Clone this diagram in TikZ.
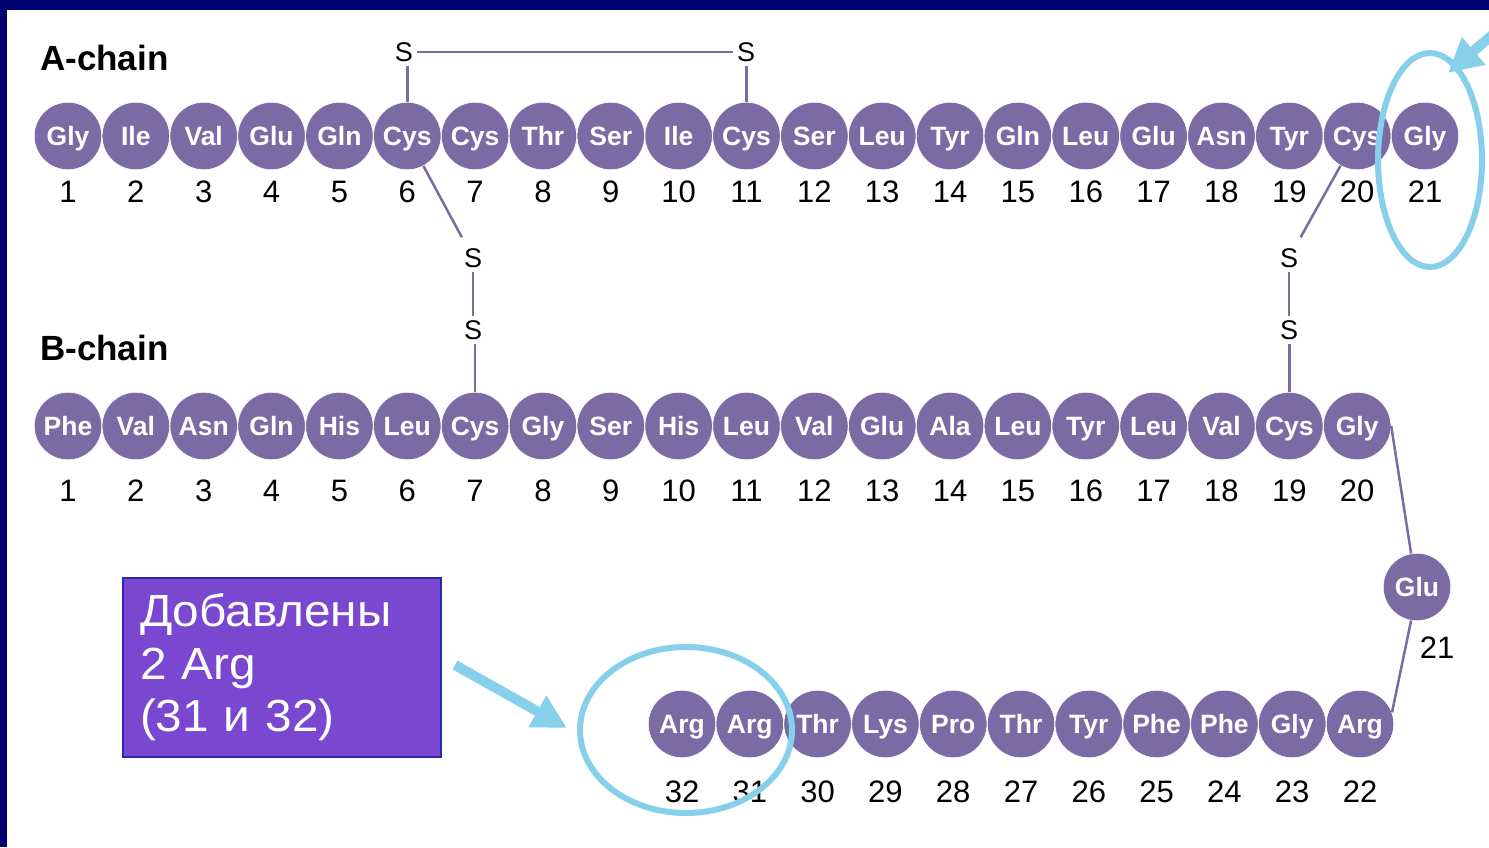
\documentclass[tikz,border=0pt]{standalone}
\usepackage{fontspec}
\setmainfont{Liberation Sans}
\newfontfamily\boxfont[FakeStretch=1.06]{Liberation Sans}
\usetikzlibrary{arrows.meta,shapes.geometric}
\definecolor{navy}{RGB}{0,0,110}
\definecolor{resfill}{RGB}{122,107,164}
\definecolor{cyanmark}{RGB}{135,208,235}
\definecolor{boxfill}{RGB}{122,72,208}
\definecolor{boxline}{RGB}{40,40,170}
\begin{document}
\begin{tikzpicture}[x=1pt,y=-1pt,
 res/.style={circle,fill=resfill,draw=white,line width=0.6pt,minimum size=67.5pt,inner sep=0pt,text=white,font=\fontsize{26.5}{30}\selectfont\bfseries,text height=19pt,text depth=0pt},
 num/.style={font=\fontsize{31}{34}\selectfont,text height=22pt,text depth=0pt,inner sep=0pt},
 sulf/.style={font=\fontsize{27}{30}\selectfont,text height=19pt,text depth=0pt,inner sep=4pt},
 bond/.style={draw=resfill,line width=2.5pt},
 chain/.style={font=\fontsize{35}{38}\selectfont\bfseries,anchor=base west,inner sep=0pt},
 hilite/.style={draw=cyanmark,line width=6pt,ellipse,inner sep=0pt},
 pointer/.style={draw=cyanmark,line width=10pt,-{Triangle[length=34pt,width=34pt]}},
 notebox/.style={rectangle,fill=boxfill,draw=boxline,line width=2pt,anchor=north west,minimum width=318pt,minimum height=179pt,inner xsep=17pt,inner ysep=0pt,text width=284pt,align=left,text=white,font=\boxfont\fontsize{45}{52.5}\selectfont}
 ]
\useasboundingbox (0,0) rectangle (1489,847);
\clip (0,0) rectangle (1489,847);
\fill[navy] (0,0) rectangle (1489,847);
\fill[white] (7,10) rectangle (1489,847);

% labels
\node[chain] (alabel) at (40,70) {A-chain};
\node[chain] (blabel) at (40,360) {B-chain};

% A chain
\foreach \n [count=\i] in {Gly,Ile,Val,Glu,Gln,Cys,Cys,Thr,Ser,Ile,Cys,Ser,Leu,Tyr,Gln,Leu,Glu,Asn,Tyr,Cys,Gly}{
  \node[res] (a\i) at ({68+(\i-1)*67.85},136) {\n};
  \node[num] (na\i) at ({68+(\i-1)*67.85},191) {\i};
}
% B chain
\foreach \n [count=\i] in {Phe,Val,Asn,Gln,His,Leu,Cys,Gly,Ser,His,Leu,Val,Glu,Ala,Leu,Tyr,Leu,Val,Cys,Gly}{
  \node[res] (b\i) at ({68+(\i-1)*67.85},426) {\n};
  \node[num] (nb\i) at ({68+(\i-1)*67.85},490) {\i};
}
\node[res] (glu) at (1417,587) {Glu};
\node[num] (nglu) at (1437,647) {21};
% C-terminal row
\foreach \n [count=\i from 22] in {Arg,Gly,Phe,Phe,Tyr,Thr,Pro,Lys,Thr,Arg,Arg}{
  \node[res] (c\i) at ({1360-(\i-22)*67.8},724) {\n};
  \node[num] (nc\i) at ({1360-(\i-22)*67.8},791) {\i};
}

% sulfur atoms
\node[sulf] (s1) at (404,52) {S};
\node[sulf] (s2) at (746,52) {S};
\node[sulf] (s3) at (473,258) {S};
\node[sulf] (s4) at (473,330) {S};
\node[sulf] (s5) at (1289,258) {S};
\node[sulf] (s6) at (1289,330) {S};

% disulfide bonds
\draw[bond] (s1.south -| a6) -- (a6);
\draw[bond] (s1) -- (s2);
\draw[bond] (s2.south -| a11) -- (a11);
\draw[bond,shorten >=8pt] (a6) -- (s3);
\draw[bond] (s3) -- (s4);
\draw[bond] (s4.south -| b7) -- (b7);
\draw[bond,shorten >=8pt] (a20) -- (s5);
\draw[bond] (s5) -- (s6);
\draw[bond] (s6.south -| b19) -- (b19);

% chain continuation
\draw[bond] (b20.east) -- (glu.100);
\draw[bond] (glu.260) -- (c22.20);

% highlights
\node[hilite,minimum width=212pt,minimum height=166pt] (ring1) at (686,730) {};
\node[hilite,minimum width=104pt,minimum height=214pt] (ring2) at (1430,160) {};

% note box
\node[notebox] (note) at (122,577) {Добавлены\\2 Arg\\(31 и 32)};

% pointers
\coordinate (p1s) at (455,665);
\coordinate (p1e) at (567,728);
\draw[pointer] (p1s) -- (p1e);
\coordinate (p2s) at (1512,18);
\coordinate (p2e) at (1448,73);
\draw[pointer] (p2s) -- (p2e);
\end{tikzpicture}
\end{document}
